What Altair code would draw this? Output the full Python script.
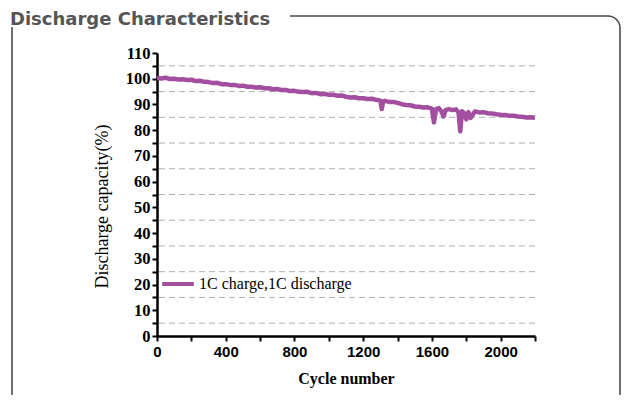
import altair as alt
import pandas as pd

cycles = [0, 25, 50, 75, 100, 125, 150, 175, 200, 225, 250, 275, 300, 325, 350, 375,
          400, 425, 450, 475, 500, 525, 550, 575, 600, 625, 650, 675, 700, 725, 750, 775,
          800, 825, 850, 875, 900, 925, 950, 975, 1000, 1025, 1050, 1075, 1100, 1125, 1150,
          1175, 1200, 1225, 1250, 1275, 1300, 1308, 1316, 1325, 1350, 1375, 1400, 1425, 1450,
          1475, 1500, 1525, 1550, 1575, 1600, 1612, 1624, 1640, 1655, 1668, 1680, 1700, 1720,
          1740, 1755, 1765, 1775, 1790, 1800, 1812, 1825, 1838, 1850, 1875, 1900, 1925, 1950,
          1975, 2000, 2025, 2050, 2075, 2100, 2125, 2150, 2175, 2200]
capacity = [100.3, 100.1, 100.4, 99.9, 100.0, 99.7, 99.8, 99.5, 99.6, 99.1, 99.2, 98.8, 98.7, 98.3, 98.4, 97.9,
            97.9, 97.6, 97.6, 97.2, 97.3, 96.9, 96.9, 96.6, 96.7, 96.3, 96.3, 95.9, 96.0, 95.6, 95.6, 95.2,
            95.3, 94.9, 94.8, 94.9, 94.4, 94.5, 94.0, 94.1, 93.8, 93.8, 93.4, 93.5, 93.0, 92.7, 92.8,
            92.4, 92.4, 92.1, 92.2, 91.8, 91.5, 88.2, 91.2, 91.4, 91.0, 91.0, 90.6, 90.1, 89.8,
            89.7, 89.2, 89.1, 88.8, 88.9, 88.4, 83.0, 88.2, 88.6, 87.3, 85.3, 87.9, 88.2, 87.8,
            88.1, 86.9, 79.6, 87.4, 86.4, 84.2, 87.0, 84.8, 86.0, 87.3, 86.9, 87.0, 86.6, 86.5,
            86.2, 86.0, 85.9, 85.6, 85.6, 85.3, 85.2, 84.9, 85.0, 84.8]
series_name = "1C charge,1C discharge"
grid_levels = [5, 15, 25, 35, 45, 55, 65, 75, 85, 95, 105]
x_ticks = [0, 200, 400, 600, 800, 1000, 1200, 1400, 1600, 1800, 2000, 2200]
y_ticks = [0, 5, 10, 15, 20, 25, 30, 35, 40, 45, 50, 55, 60, 65, 70, 75, 80, 85, 90, 95, 100, 105, 110]
panel_title = "Discharge Characteristics"

df = pd.DataFrame({"cycle": cycles, "capacity": capacity, "series": series_name})
grid_df = pd.DataFrame({"level": grid_levels})
one = pd.DataFrame({"k": [0]})

x_scale = alt.Scale(domain=[0, 2200], nice=False, zero=False)
y_scale = alt.Scale(domain=[0, 110], nice=False)

x_axis = alt.Axis(
    values=x_ticks, format="d",
    labelExpr="datum.value % 400 == 0 ? datum.label : ''",
    domainColor="black", domainWidth=2.5, tickColor="black", tickWidth=2, tickSize=5,
    labelFont="Liberation Sans", labelFontWeight="bold", labelFontSize=15, labelColor="black",
    labelPadding=3, labelOverlap=False, labelFlush=False, grid=False,
    title="Cycle number", titleFont="Liberation Serif", titleFontSize=16, titleFontWeight="bold",
    titleColor="black", titleY=47, titleBaseline="alphabetic",
)
y_axis = alt.Axis(
    values=y_ticks, format="d",
    labelExpr="datum.value % 10 == 0 ? datum.label : ''",
    domainColor="black", domainWidth=2.5, tickColor="black", tickWidth=2, tickSize=5,
    labelFont="Liberation Serif", labelFontWeight="bold", labelFontSize=16.5, labelColor="black",
    labelPadding=2, labelOverlap=False, labelFlush=False, grid=False,
    title="Discharge capacity(%)", titleFont="Liberation Serif", titleFontSize=18,
    titleFontWeight="normal", titleColor="black", titleX=-50, titleY=153, titleAngle=270,
    titleAlign="center", titleBaseline="alphabetic",
)

frame = alt.Chart(one).mark_rect(
    cornerRadius=12, fillOpacity=0, stroke="#4a4a4a", strokeWidth=1.6
).encode(x=alt.value(-145), x2=alt.value(463), y=alt.value(-37), y2=alt.value(360))

cover = alt.Chart(one).mark_rect(fill="white").encode(
    x=alt.value(-160), x2=alt.value(133), y=alt.value(-60), y2=alt.value(-26)
)

title = alt.Chart(one).mark_text(
    align="left", baseline="alphabetic", font="DejaVu Sans", fontWeight="bold",
    fontSize=18, color="#555555"
).encode(x=alt.value(-147), y=alt.value(-28), text=alt.value(panel_title))

grid = alt.Chart(grid_df).mark_rule(
    strokeDash=[6, 4], color="#b3adad", strokeWidth=1
).encode(y=alt.Y("level:Q", scale=y_scale, axis=y_axis))

line = alt.Chart(df).mark_line(strokeWidth=4.5, strokeJoin="round").encode(
    x=alt.X("cycle:Q", scale=x_scale, axis=x_axis),
    y=alt.Y("capacity:Q", scale=y_scale, axis=y_axis),
    color=alt.Color(
        "series:N",
        scale=alt.Scale(range=["#a24fa0"]),
        legend=alt.Legend(
            orient="none", legendX=3, legendY=213, title=None, symbolType="stroke",
            symbolStrokeWidth=4, symbolSize=1000, labelFont="Liberation Serif",
            labelFontSize=16, labelColor="black", padding=0, labelOffset=3,
        ),
    ),
)

chart = alt.layer(frame, cover, title, grid, line).properties(
    width=378, height=283,
    autosize=alt.AutoSizeParams(type="none"),
    padding={"left": 149, "top": 45, "right": 87, "bottom": 59},
).configure_view(stroke=None)

chart.save("out.html", embed_options={"renderer": "svg", "actions": False})
